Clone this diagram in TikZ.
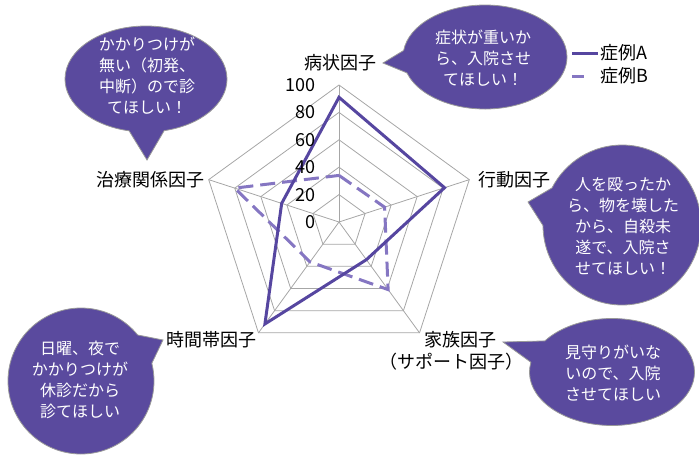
\documentclass[tikz,border=0pt]{standalone}
\usepackage{fontspec}
\setmainfont{Noto Sans CJK JP}
\usetikzlibrary{shapes.callouts}
\definecolor{purp}{HTML}{5A4A9E}
\definecolor{lineA}{HTML}{5646A0}
\definecolor{lineB}{HTML}{8576C2}
\definecolor{gridc}{HTML}{A6A6A6}
\tikzset{
 bubble/.style={ellipse callout, draw=gray!80, line width=0.8pt, fill=purp, inner sep=0pt, callout pointer arc=25},
 bubbletext/.style={text=white, font=\fontsize{16}{21}\selectfont, align=center, inner sep=0pt},
 cat/.style={font=\fontsize{18}{22}\selectfont, inner sep=0pt},
 num/.style={font=\fontsize{18}{22}\selectfont, inner sep=0pt, anchor=east},
 gridline/.style={draw=gridc, line width=0.8pt},
 seriesA/.style={draw=lineA, line width=3pt, line join=miter},
 seriesB/.style={draw=lineB, line width=3pt, dash pattern=on 15pt off 7pt},
}
\begin{document}
\begin{tikzpicture}[x=1pt,y=-1pt]
\useasboundingbox (0,0) rectangle (699,455);
\coordinate (O) at (339,222);
% grid
\foreach \r in {27.4,54.8,82.2,109.6,137}{
  \draw[gridline] ([shift={(-90:\r)}]O) -- ([shift={(-18:\r)}]O) -- ([shift={(54:\r)}]O) -- ([shift={(126:\r)}]O) -- ([shift={(198:\r)}]O) -- cycle;
}
\coordinate (v1) at ([shift={(-90:137)}]O);
\coordinate (v2) at ([shift={(-18:137)}]O);
\coordinate (v3) at ([shift={(54:137)}]O);
\coordinate (v4) at ([shift={(126:137)}]O);
\coordinate (v5) at ([shift={(198:137)}]O);
\foreach \v in {v1,v2,v3,v4,v5}{\draw[gridline] (O) -- (\v);}
% series B
\coordinate (b1) at ([shift={(-90:{1.37*34})}]O);
\coordinate (b2) at ([shift={(-18:{1.37*35})}]O);
\coordinate (b3) at ([shift={(54:{1.37*61})}]O);
\coordinate (b4) at ([shift={(126:{1.37*36})}]O);
\coordinate (b5) at ([shift={(198:{1.37*80})}]O);
\draw[seriesB] (b1) -- (b2) -- (b3) -- (b4) -- (b5) -- cycle;
% series A
\coordinate (a1) at ([shift={(-90:{1.37*91})}]O);
\coordinate (a2) at ([shift={(-18:{1.37*81})}]O);
\coordinate (a3) at ([shift={(54:{1.37*34})}]O);
\coordinate (a4) at ([shift={(126:{1.37*92})}]O);
\coordinate (a5) at ([shift={(198:{1.37*44})}]O);
\draw[seriesA] (a1) -- (a2) -- (a3) -- (a4) -- (a5) -- cycle;
% axis numbers
\foreach \v in {0,20,40,60,80,100}{
  \node[num] (n\v) at (316,{222-1.37*\v}) {\v};
}
% category labels
\node[cat] (k1) at (340,63) {病状因子};
\node[cat] (k2) at (514,180) {行動因子};
\node[cat] (k3) at (460,340) {家族因子};
\node[cat] (k3b) at (451,362) {（サポート因子）};
\node[cat] (k4) at (211,340) {時間帯因子};
\node[cat] (k5) at (150,180) {治療関係因子};
% legend
\coordinate (la1) at (572,53);
\coordinate (la2) at (598,53);
\draw[seriesA] (la1) -- (la2);
\node[cat, anchor=west] (lA) at (600,53) {症例A};
\coordinate (lb1) at (572,76);
\coordinate (lb2) at (598,76);
\draw[draw=lineB, line width=3pt, dash pattern=on 12pt off 20pt] (lb1) -- (lb2);
\node[cat, anchor=west] (lB) at (600,76) {症例B};
% callouts
\node[bubble, minimum width=162pt, minimum height=106pt, callout absolute pointer={(147,160)}] (c1) at (146,79) {};
\node[bubbletext] (t1) at (147,76) {かかりつけが\\無い（初発、\\中断）ので診\\てほしい！};
\node[bubble, minimum width=164pt, minimum height=104pt, callout absolute pointer={(383,63)}] (c2) at (485,57) {};
\node[bubbletext] (t2) at (483,58) {症状が重いか\\ら、入院させ\\てほしい！};
\node[bubble, minimum width=158pt, minimum height=160pt, callout pointer arc=28, callout absolute pointer={(528,202)}] (c3) at (622,225) {};
\node[bubbletext] (t3) at (623,226) {人を殴ったか\\ら、物を壊した\\から、自殺未\\遂で、入院さ\\せてほしい！};
\node[bubble, minimum width=146pt, minimum height=146pt, callout absolute pointer={(163,340)}] (c4) at (81,381) {};
\node[bubbletext] (t4) at (80,380) {日曜、夜で\\かかりつけが\\休診だから\\診てほしい};
\node[bubble, minimum width=165pt, minimum height=107pt, callout absolute pointer={(503,342)}] (c5) at (612,372) {};
\node[bubbletext] (t5) at (613,373) {見守りがいな\\いので、入院\\させてほしい};
\end{tikzpicture}
\end{document}
